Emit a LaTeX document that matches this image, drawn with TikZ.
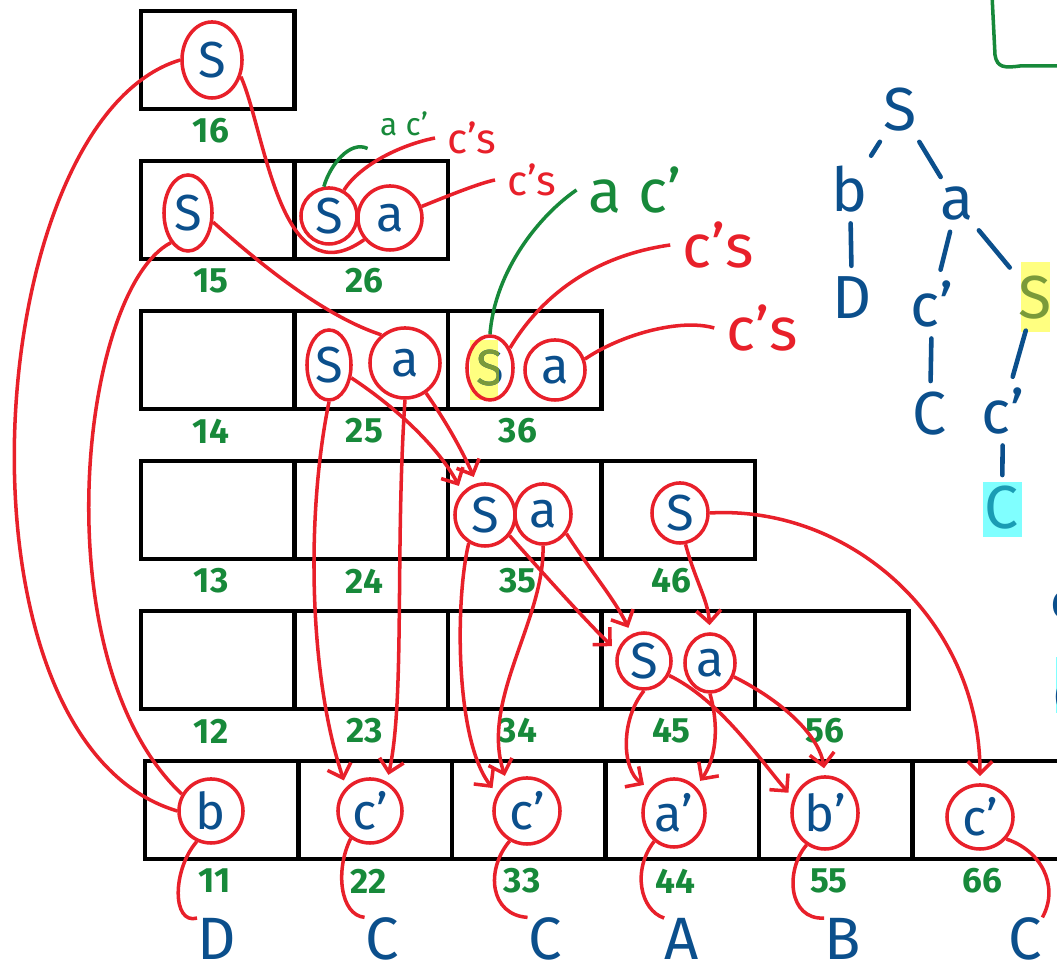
\documentclass[tikz,border=0pt]{standalone}
\usepackage{fontspec}
\setmainfont{Fira Sans}
\usetikzlibrary{arrows.meta,shapes.geometric}
\definecolor{inkred}{HTML}{E8202A}
\definecolor{inkblue}{HTML}{0B4F8C}
\definecolor{inkgreen}{HTML}{17893A}
\definecolor{inkolive}{HTML}{7A9A3A}
\definecolor{inkteal}{HTML}{1A9CB4}
\definecolor{hlyellow}{HTML}{FFFF80}
\definecolor{hlcyan}{HTML}{80FFFF}
\begin{document}
\begin{tikzpicture}[x=0.01cm,y=-0.01cm,
  cell/.style={draw=black,line width=1.2pt},
  idx/.style={text=inkgreen,font=\bfseries\normalsize},
  sym/.style={ellipse,draw=inkred,line width=1pt,inner sep=0pt,minimum size=0.64cm,text=inkblue,font=\Large},
  ptr/.style={draw=inkred,line width=1pt,-{Straight Barb[length=3.5pt,width=7pt]},shorten >=2pt},
  link/.style={draw=inkred,line width=1pt},
  word/.style={text=inkblue,inner sep=0pt,anchor=base,font=\fontsize{17}{17}\selectfont},
  tnode/.style={text=inkblue,inner sep=1pt,font=\LARGE},
  tedge/.style={draw=inkblue,line width=1.3pt,line cap=round,shorten <=2pt,shorten >=2pt}]
\useasboundingbox (0,0) rectangle (1057,968);

% the table, row r holds the spans of length r
\foreach \r in {2,...,6}{
  \pgfmathtruncatemacro\n{7-\r}
  \foreach \i in {1,...,\n}{
    \pgfmathtruncatemacro\j{\i+\r-1}
    \draw[cell] ({141+(\i-1)*153.5},{761-(\r-1)*150}) rectangle +(153.5,98);
    \node[idx] (l\i\j) at ({211+(\i-1)*153.5},{881-(\r-1)*150}) {\i\j};
  }
}
\foreach \i in {1,...,6}{
  \draw[cell] ({145+(\i-1)*153.5},761) rectangle +(153.5,98);
  \node[idx] (l\i\i) at ({215+(\i-1)*153.5},881) {\i\i};
}

% highlight behind S in 36
\fill[hlyellow] (470,340) rectangle (498,400);

% entries
\node[sym,minimum width=0.6cm,minimum height=0.76cm] (S16) at (212,60) {S};
\node[sym,minimum width=0.48cm,minimum height=0.76cm] (S15) at (188,213) {S};
\node[sym,minimum size=0.56cm] (S26) at (329,216) {S};
\node[sym] (a26) at (390,218) {a};
\node[sym,minimum width=0.44cm,minimum height=0.7cm] (S25) at (329,365) {S};
\node[sym,minimum size=0.7cm] (a25) at (405,363) {a};
\node[sym,minimum width=0.46cm,minimum height=0.64cm] (S36) at (490,368) {S};
\node[sym,minimum size=0.6cm] (a36) at (555,370) {a};
\node[sym,minimum width=0.6cm,minimum height=0.62cm] (S35) at (485,515) {S};
\node[sym,minimum width=0.56cm,minimum height=0.6cm] (a35) at (543,514) {a};
\node[sym,minimum width=0.56cm,minimum height=0.6cm] (S46) at (680,513) {S};
\node[sym,minimum width=0.54cm,minimum height=0.56cm] (S45) at (644,661) {S};
\node[sym,minimum width=0.5cm,minimum height=0.58cm] (a45) at (710,663) {a};
\node[sym] (b11) at (211,811) {b};
\node[sym] (c22) at (370,811) {c'};
\node[sym,minimum size=0.66cm] (c33) at (527,811) {c'};
\node[sym,minimum width=0.62cm,minimum height=0.68cm] (a44) at (674,813) {a'};
\node[sym,minimum width=0.66cm,minimum height=0.72cm] (b55) at (825,813) {b'};
\node[sym,minimum width=0.66cm,minimum height=0.64cm] (c66) at (980,817) {c'};
\begin{scope}
  \clip (470,340) rectangle (498,400);
  \node[text=inkolive,font=\Large] (S36hl) at (S36.center) {S};
\end{scope}

% notes on 26 and 36
\node[text=inkgreen,font=\small] (n26a) at (404,124) {a c'};
\node[text=inkred,font=\large] (n26b) at (472,138) {c's};
\node[text=inkred,font=\large] (n26c) at (532,180) {c's};
\draw[inkgreen,line width=1pt] (S26.100) .. controls (330,165) and (350,140) .. (n26a.south west);
\draw[link] (S26.60) .. controls (360,165) and (400,145) .. (n26b.west);
\draw[link] (a26.20) .. controls (450,195) and (480,183) .. (n26c.west);
\node[text=inkgreen,font=\LARGE] (n36a) at (635,190) {a c'};
\node[text=inkred,font=\LARGE] (n36b) at (718,245) {c's};
\node[text=inkred,font=\LARGE] (n36c) at (762,328) {c's};
\draw[inkgreen,line width=1pt] (S36.north) .. controls (495,270) and (540,215) .. (n36a.west);
\draw[link] (S36.45) .. controls (545,290) and (600,255) .. (n36b.west);
\draw[link] (a36.20) .. controls (620,335) and (680,318) .. (n36c.west);

% back pointers
\draw[link] (S16.west) .. controls (-20,120) and (-60,740) .. (b11.west);
\draw[link] (S16.-30) .. controls (265,130) and (280,300) .. (a26.-140);
\draw[link] (S15.-120) .. controls (80,290) and (40,660) .. (b11.150);
\draw[link] (S15.-20) .. controls (250,255) and (320,315) .. (a25.130);
\draw[ptr] (S25.south) .. controls (305,520) and (310,680) .. (c22.135);
\draw[ptr] (a25.south) .. controls (395,550) and (405,700) .. (c22.60);
\draw[ptr] (S25.-30) .. controls (400,410) and (440,450) .. (S35.135);
\draw[ptr] (a25.-55) .. controls (445,420) and (462,450) .. (S35.105);
\draw[ptr] (S35.-120) .. controls (455,600) and (455,740) .. (c33.150);
\draw[ptr] (a35.south) .. controls (545,620) and (480,700) .. (c33.125);
\draw[ptr] (S35.-40) .. controls (540,570) and (585,620) .. (S45.160);
\draw[ptr] (a35.-40) .. controls (590,570) and (615,600) .. (S45.115);
\draw[ptr] (S46.-80) .. controls (695,580) and (708,600) .. (a45.north);
\draw[ptr] (S46.east) .. controls (850,505) and (980,620) .. (c66.north);
\draw[ptr] (S45.south) .. controls (620,720) and (622,770) .. (a44.135);
\draw[ptr] (a45.south) .. controls (720,730) and (715,760) .. (a44.50);
\draw[ptr] (S45.-30) .. controls (720,700) and (760,760) .. (b55.155);
\draw[ptr] (a45.-30) .. controls (790,705) and (820,740) .. (b55.north);

% the input word
\node[word] (tD) at (217,960) {D};
\node[word] (tC2) at (382,960) {C};
\node[word] (tC3) at (545,960) {C};
\node[word] (tA) at (682,960) {A};
\node[word] (tB) at (843,960) {B};
\node[word] (tC6) at (1025,960) {C};
\draw[link] (b11.-115) .. controls (172,870) and (172,925) .. (tD.north west);
\draw[link] (c22.-125) .. controls (335,870) and (340,915) .. (tC2.north west);
\draw[link] (c33.-120) .. controls (485,870) and (490,915) .. (tC3.north west);
\draw[link] (a44.-125) .. controls (632,870) and (640,910) .. (tA.north west);
\draw[link] (b55.-120) .. controls (785,870) and (788,920) .. (tB.north west);
\draw[link] (c66.-40) .. controls (1040,850) and (1060,885) .. (tC6.north east);

% parse tree
\fill[hlyellow] (1021,262) rectangle (1050,332);
\fill[hlcyan] (983,482) rectangle (1022,537);
\node[tnode] (rS) at (900,110) {S};
\node[tnode] (rb) at (850,189) {b};
\node[tnode] (ra) at (957,204) {a};
\node[tnode] (rD) at (852,298) {D};
\node[tnode] (rc1) at (932,304) {c'};
\node[tnode,text=inkolive] (rS2) at (1035,298) {S};
\node[tnode] (rC1) at (930,414) {C};
\node[tnode] (rc2) at (1003,411) {c'};
\node[tnode,text=inkteal] (rC2) at (1002,508) {C};
\draw[tedge] (rS) -- (rb);
\draw[tedge] (rS) -- (ra);
\draw[tedge] (rb) -- (rD);
\draw[tedge] (ra) -- (rc1);
\draw[tedge] (ra) -- (rS2);
\draw[tedge] (rc1) -- (rC1);
\draw[tedge] (rS2) -- (rc2);
\draw[tedge] (rc2) -- (rC2);

% bits at the right border
\draw[inkgreen,line width=1pt] (992,-5) -- (995,55) .. controls (997,68) and (1005,68) .. (1020,66) -- (1062,66);
\node[text=inkblue,font=\Large] (rc3) at (1063,605) {c};
\fill[hlcyan] (1056,657) rectangle (1080,713);
\node[text=inkblue,font=\Large] (rC3) at (1068,697) {C};
\end{tikzpicture}
\end{document}
